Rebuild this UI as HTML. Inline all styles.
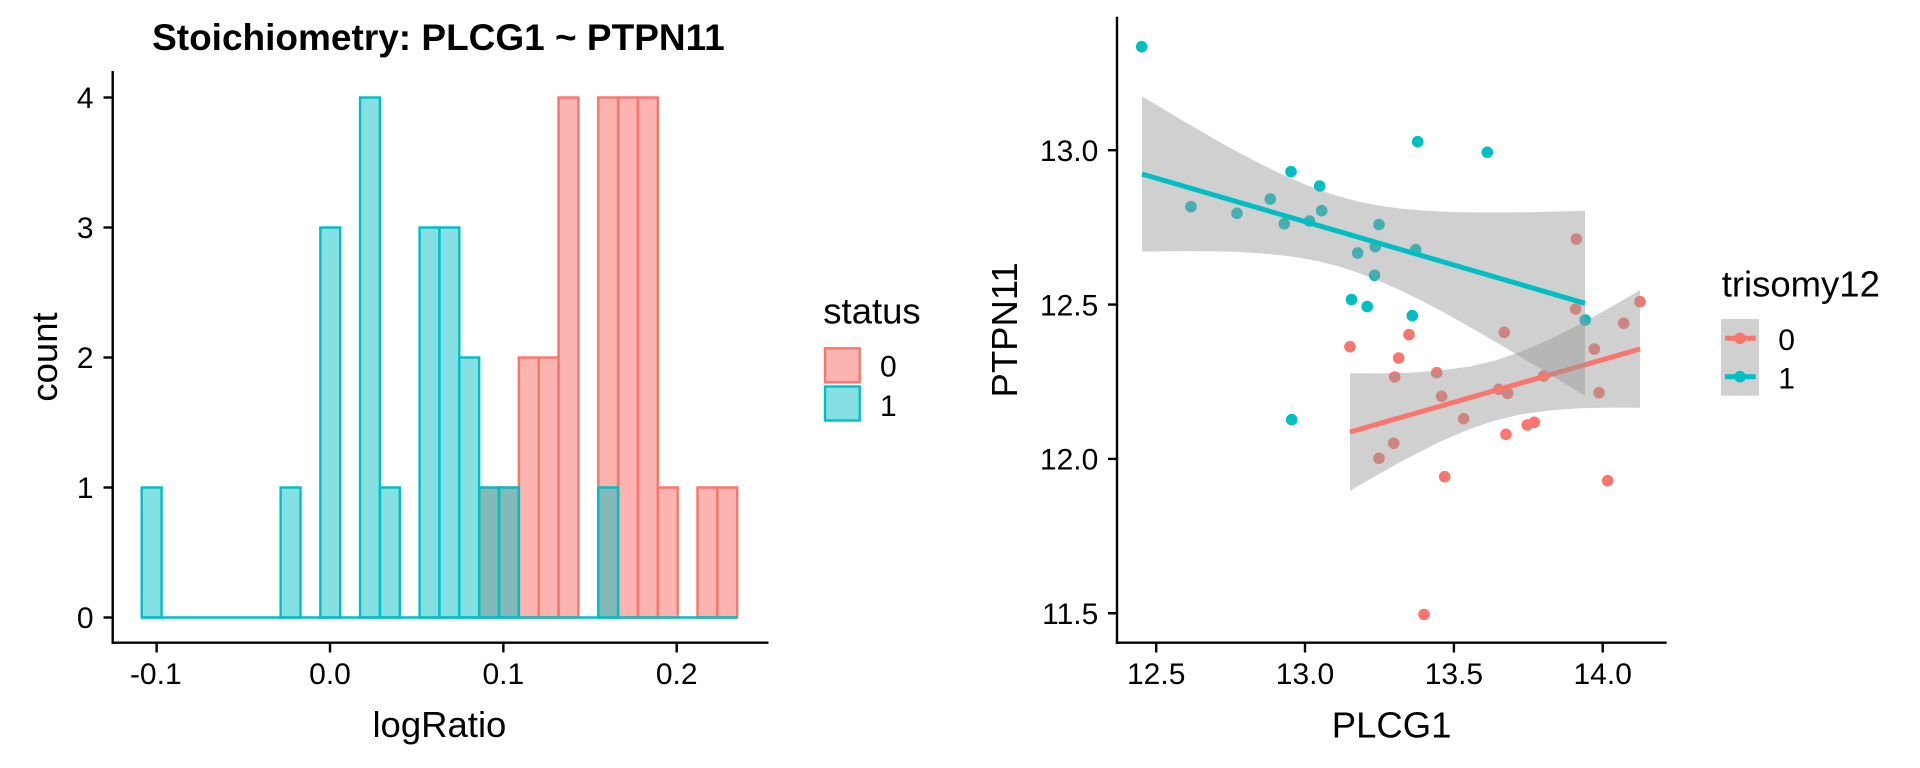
<!DOCTYPE html>
<html>
<head>
<meta charset="utf-8">
<style>
html,body{margin:0;padding:0;background:#fff;}
svg{display:block;}
text{font-family:"Liberation Sans",Arial,sans-serif;fill:#000;}
</style>
</head>
<body>
<svg width="1920" height="768" viewBox="0 0 1920 768" xmlns="http://www.w3.org/2000/svg">
<rect x="0" y="0" width="1920" height="768" fill="#fff"/>

<!-- ===== LEFT PANEL: histogram ===== -->
<text x="438.4" y="50" font-size="37" font-weight="bold" text-anchor="middle">Stoichiometry: PLCG1 ~ PTPN11</text>

<!-- red (status 0) bars -->
<g fill="#F8766D" fill-opacity="0.55" stroke="#F8766D" stroke-width="2.4">
<rect x="479.15" y="487.5" width="19.85" height="130"/>
<rect x="499.00" y="487.5" width="19.85" height="130"/>
<rect x="518.85" y="357.5" width="19.85" height="260"/>
<rect x="538.70" y="357.5" width="19.85" height="260"/>
<rect x="558.55" y="97.5" width="19.85" height="520"/>
<rect x="598.25" y="97.5" width="19.85" height="520"/>
<rect x="618.10" y="97.5" width="19.85" height="520"/>
<rect x="637.95" y="97.5" width="19.85" height="520"/>
<rect x="657.80" y="487.5" width="19.85" height="130"/>
<rect x="697.50" y="487.5" width="19.85" height="130"/>
<rect x="717.35" y="487.5" width="19.85" height="130"/>
</g>
<!-- teal (status 1) bars -->
<line x1="141.7" y1="617.5" x2="737.2" y2="617.5" stroke="#00BFC4" stroke-width="2.4"/>
<g fill="#00BFC4" fill-opacity="0.48" stroke="#00BFC4" stroke-width="2.4">
<rect x="141.70" y="487.5" width="19.85" height="130"/>
<rect x="280.65" y="487.5" width="19.85" height="130"/>
<rect x="320.35" y="227.5" width="19.85" height="390"/>
<rect x="360.05" y="97.5" width="19.85" height="520"/>
<rect x="379.90" y="487.5" width="19.85" height="130"/>
<rect x="419.60" y="227.5" width="19.85" height="390"/>
<rect x="439.45" y="227.5" width="19.85" height="390"/>
<rect x="459.30" y="357.5" width="19.85" height="260"/>
<rect x="479.15" y="487.5" width="19.85" height="130"/>
<rect x="499.00" y="487.5" width="19.85" height="130"/>
<rect x="598.25" y="487.5" width="19.85" height="130"/>
</g>

<!-- left axes -->
<g stroke="#000" stroke-width="2.4" fill="none">
<line x1="112.7" y1="71" x2="112.7" y2="643.9"/>
<line x1="111.5" y1="642.7" x2="768.5" y2="642.7"/>
<line x1="103.5" y1="617.5" x2="112.7" y2="617.5"/>
<line x1="103.5" y1="487.5" x2="112.7" y2="487.5"/>
<line x1="103.5" y1="357.5" x2="112.7" y2="357.5"/>
<line x1="103.5" y1="227.5" x2="112.7" y2="227.5"/>
<line x1="103.5" y1="97.5" x2="112.7" y2="97.5"/>
<line x1="156.65" y1="642.7" x2="156.65" y2="652.5"/>
<line x1="330" y1="642.7" x2="330" y2="652.5"/>
<line x1="503.35" y1="642.7" x2="503.35" y2="652.5"/>
<line x1="676.7" y1="642.7" x2="676.7" y2="652.5"/>
</g>
<g font-size="30" text-anchor="end">
<text x="93.5" y="628.2">0</text>
<text x="93.5" y="498.2">1</text>
<text x="93.5" y="368.2">2</text>
<text x="93.5" y="238.2">3</text>
<text x="93.5" y="108.2">4</text>
</g>
<g font-size="30" text-anchor="middle">
<text x="155.8" y="684">-0.1</text>
<text x="330" y="684">0.0</text>
<text x="503.35" y="684">0.1</text>
<text x="676.7" y="684">0.2</text>
</g>
<text x="439.4" y="737" font-size="36.5" text-anchor="middle">logRatio</text>
<text transform="translate(57,357) rotate(-90)" font-size="36.5" text-anchor="middle">count</text>

<!-- left legend -->
<text x="823.3" y="323.3" font-size="36.5">status</text>
<rect x="825" y="348.3" width="34.7" height="34" fill="#F8766D" fill-opacity="0.55" stroke="#F8766D" stroke-width="2.4"/>
<rect x="825" y="386.5" width="34.7" height="34" fill="#00BFC4" fill-opacity="0.48" stroke="#00BFC4" stroke-width="2.4"/>
<text x="880" y="376.7" font-size="30">0</text>
<text x="880" y="416" font-size="30">1</text>

<!-- ===== RIGHT PANEL: scatter ===== -->
<g fill="#F8766D">
<circle cx="1576.3" cy="239" r="5.8"/>
<circle cx="1575.7" cy="309" r="5.8"/>
<circle cx="1640" cy="301.7" r="5.8"/>
<circle cx="1623.7" cy="323.3" r="5.8"/>
<circle cx="1504.3" cy="332.3" r="5.8"/>
<circle cx="1594.3" cy="349" r="5.8"/>
<circle cx="1409" cy="334.7" r="5.8"/>
<circle cx="1350" cy="346.7" r="5.8"/>
<circle cx="1398.7" cy="358" r="5.8"/>
<circle cx="1394.7" cy="377" r="5.8"/>
<circle cx="1436.7" cy="372.7" r="5.8"/>
<circle cx="1441.7" cy="396.3" r="5.8"/>
<circle cx="1498.7" cy="389.3" r="5.8"/>
<circle cx="1507.7" cy="393.3" r="5.8"/>
<circle cx="1543.7" cy="376" r="5.8"/>
<circle cx="1599" cy="392.7" r="5.8"/>
<circle cx="1463.7" cy="418.7" r="5.8"/>
<circle cx="1527.3" cy="425" r="5.8"/>
<circle cx="1534.3" cy="422.3" r="5.8"/>
<circle cx="1506" cy="434.3" r="5.8"/>
<circle cx="1393.7" cy="443.3" r="5.8"/>
<circle cx="1379" cy="458.3" r="5.8"/>
<circle cx="1444.7" cy="476.7" r="5.8"/>
<circle cx="1607.7" cy="480.7" r="5.8"/>
<circle cx="1424" cy="614.5" r="5.8"/>
</g>
<g fill="#00BFC4">
<circle cx="1141.7" cy="46.7" r="5.8"/>
<circle cx="1191" cy="206.7" r="5.8"/>
<circle cx="1237" cy="213.3" r="5.8"/>
<circle cx="1270.3" cy="199" r="5.8"/>
<circle cx="1284.3" cy="223.8" r="5.8"/>
<circle cx="1291" cy="171.7" r="5.8"/>
<circle cx="1309.5" cy="221" r="5.8"/>
<circle cx="1319.7" cy="186" r="5.8"/>
<circle cx="1321.7" cy="210.7" r="5.8"/>
<circle cx="1357.7" cy="253" r="5.8"/>
<circle cx="1375.2" cy="246.7" r="5.8"/>
<circle cx="1379" cy="224.5" r="5.8"/>
<circle cx="1374.5" cy="275.3" r="5.8"/>
<circle cx="1351.5" cy="299.5" r="5.8"/>
<circle cx="1367.2" cy="306.5" r="5.8"/>
<circle cx="1412.3" cy="315.7" r="5.8"/>
<circle cx="1417.7" cy="141.7" r="5.8"/>
<circle cx="1415.7" cy="249.7" r="5.8"/>
<circle cx="1487.3" cy="152.3" r="5.8"/>
<circle cx="1585.3" cy="320" r="5.8"/>
<circle cx="1291.7" cy="419.7" r="5.8"/>
</g>

<!-- red smooth -->
<path d="M1350,373.3 L1380,373.4 L1410,372.7 L1440,370.6 L1470,366.5 L1495,360.5 L1520,352.1 L1550,339.2 L1580,324.1 L1610,307.6 L1640,290.3 L1640,407.7 L1610,407.6 L1580,408.3 L1550,410.4 L1520,414.5 L1495,420.5 L1470,428.9 L1440,441.8 L1410,456.9 L1380,473.4 L1350,490.7 Z" fill="#999999" fill-opacity="0.46"/>
<line x1="1350" y1="432" x2="1640" y2="349" stroke="#F8766D" stroke-width="5"/>
<!-- teal smooth -->
<path d="M1142,96.5 L1161,107.6 L1180,119.1 L1200,130.6 L1220,142.2 L1240,153.2 L1260,163.6 L1280,173.5 L1300,182.4 L1320,190.2 L1340,196.8 L1360,202.0 L1380,205.8 L1400,208.5 L1420,210.3 L1440,211.5 L1460,212.2 L1500,212.5 L1540,212.0 L1585,210.8 L1585,395.8 L1540,368.4 L1500,344.5 L1480,332.9 L1460,321.4 L1440,310.4 L1420,299.9 L1400,290.1 L1380,281.2 L1360,273.4 L1340,266.8 L1320,261.6 L1300,257.8 L1280,255.1 L1260,253.2 L1240,252.0 L1220,251.4 L1180,251.1 L1142,251.5 Z" fill="#999999" fill-opacity="0.46"/>
<line x1="1142" y1="174" x2="1585" y2="303.3" stroke="#00BFC4" stroke-width="5"/>

<!-- right axes -->
<g stroke="#000" stroke-width="2.4" fill="none">
<line x1="1117" y1="16.7" x2="1117" y2="643.9"/>
<line x1="1115.8" y1="642.7" x2="1666.7" y2="642.7"/>
<line x1="1108" y1="150.2" x2="1117" y2="150.2"/>
<line x1="1108" y1="304.55" x2="1117" y2="304.55"/>
<line x1="1108" y1="458.9" x2="1117" y2="458.9"/>
<line x1="1108" y1="613.25" x2="1117" y2="613.25"/>
<line x1="1156.2" y1="642.7" x2="1156.2" y2="652.5"/>
<line x1="1305" y1="642.7" x2="1305" y2="652.5"/>
<line x1="1453.9" y1="642.7" x2="1453.9" y2="652.5"/>
<line x1="1602.7" y1="642.7" x2="1602.7" y2="652.5"/>
</g>
<g font-size="30" text-anchor="end">
<text x="1098.3" y="160.9">13.0</text>
<text x="1098.3" y="315.25">12.5</text>
<text x="1098.3" y="469.6">12.0</text>
<text x="1098.3" y="623.95">11.5</text>
</g>
<g font-size="30" text-anchor="middle">
<text x="1156.2" y="684">12.5</text>
<text x="1305" y="684">13.0</text>
<text x="1453.9" y="684">13.5</text>
<text x="1602.7" y="684">14.0</text>
</g>
<text x="1391.6" y="737.3" font-size="36.5" text-anchor="middle">PLCG1</text>
<text transform="translate(1017,329.9) rotate(-90)" font-size="36.5" text-anchor="middle">PTPN11</text>

<!-- right legend -->
<text x="1721.7" y="296.7" font-size="36.5">trisomy12</text>
<rect x="1721" y="319" width="38" height="38.3" fill="#999999" fill-opacity="0.46"/>
<rect x="1721" y="357.3" width="38" height="38.4" fill="#999999" fill-opacity="0.46"/>
<circle cx="1740" cy="338.3" r="5.8" fill="#F8766D"/>
<line x1="1725" y1="338.3" x2="1755.7" y2="338.3" stroke="#F8766D" stroke-width="5"/>
<circle cx="1740" cy="376.7" r="5.8" fill="#00BFC4"/>
<line x1="1725" y1="376.7" x2="1755.7" y2="376.7" stroke="#00BFC4" stroke-width="5"/>
<text x="1778.3" y="350" font-size="30">0</text>
<text x="1778.3" y="388.3" font-size="30">1</text>
</svg>
</body>
</html>
